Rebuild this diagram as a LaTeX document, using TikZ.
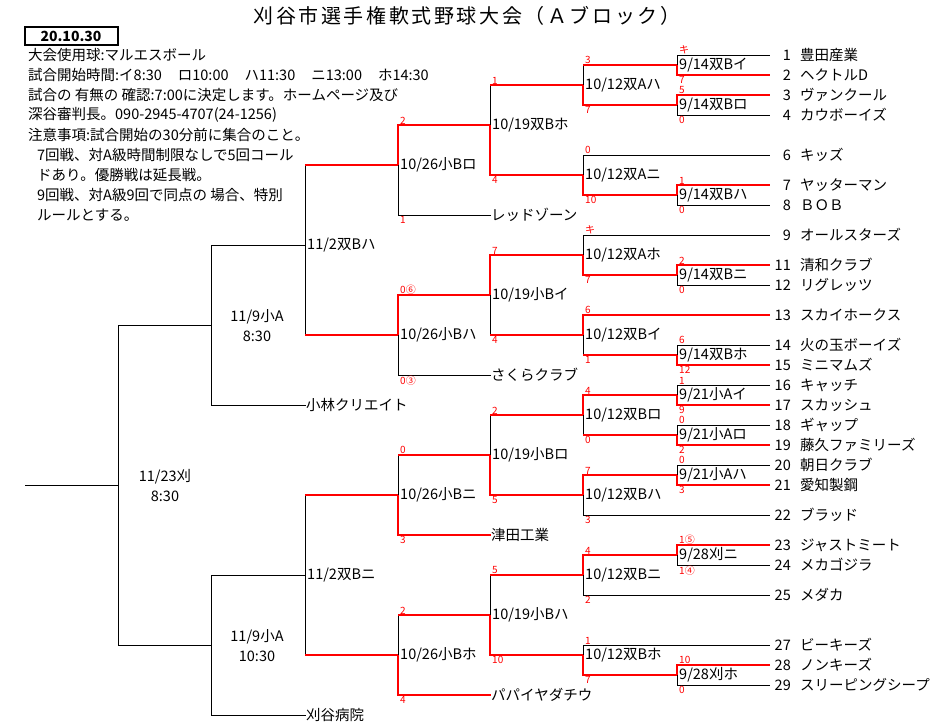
\documentclass[tikz,border=0pt]{standalone}
\usepackage{fontspec}
\setmainfont{Noto Sans CJK JP}
\newfontfamily\titlefont[LetterSpace=13]{Noto Sans CJK JP}
\begin{document}
\begin{tikzpicture}[x=1pt, y=-1pt,
	line/.style={black, line width=1pt},
	win/.style={red, line width=2pt},
	game/.style={anchor=west, inner sep=0pt, xshift=2pt, font=\fontsize{14.5}{16}\selectfont},
	gamec/.style={align=center, inner sep=0pt, font=\fontsize{14.5}{20}\selectfont},
	score/.style={red, inner sep=0pt, xshift=2pt, font=\fontsize{10}{11}\selectfont},
	team/.style={anchor=west, inner sep=0pt, font=\fontsize{14.5}{16}\selectfont},
	note/.style={anchor=west, inner sep=0pt, font=\fontsize{14.5}{16}\selectfont}
]
\useasboundingbox (0,0) rectangle (947,726);

% heading and notes
\node (title) at (467,16) {\titlefont\fontsize{20}{22}\selectfont 刈谷市選手権軟式野球大会（Ａブロック）};
\node (date) at (71,36) [draw, line width=2pt, minimum width=93pt, minimum height=18pt, inner sep=0pt, font=\bfseries\fontsize{14}{16}\selectfont] {20.10.30};
\foreach \y/\x/\t in {55/28/{大会使用球:マルエスボール},
	75/28/{試合開始時間:イ8:30\hspace{16pt}ロ10:00\hspace{16pt}ハ11:30\hspace{16pt}ニ13:00\hspace{16pt}ホ14:30},
	95/28/{試合の 有無の 確認:7:00に決定します。ホームページ及び},
	115/28/{深谷審判長。090-2945-4707(24-1256)},
	135/28/{注意事項:試合開始の30分前に集合のこと。},
	155/37/{7回戦、対A級時間制限なしで5回コール},
	175/37/{ドあり。優勝戦は延長戦。},
	195/37/{9回戦、対A級9回で同点の 場合、特別},
	215/37/{ルールとする。}}
	\node (note\y) at (\x,\y) [note] {\t};

% games: name/x/top/mid/bottom
\foreach \id/\x/\t/\m/\b in {a1/677/55/65/75, a2/677/95/105/115, a3/677/185/195/205,
	a4/677/265/275/285, a5/677/345/355/365, a6/677/385/395/405, a7/677/425/435/445,
	a8/677/465/475/485, a9/677/545/555/565, a10/677/665/675/685,
	b1/583/65/85/105, b2/583/155/175/195, b3/583/235/255/275, b4/583/315/335/355,
	b5/583/395/415/435, b6/583/475/495/515, b7/583/555/575/595, b8/583/645/655/675,
	c1/490/85/125/175, c2/490/255/295/335, c3/490/415/455/495, c4/490/575/615/655,
	d1/398/125/165/215, d2/398/295/335/375, d3/398/455/495/535, d4/398/615/655/695,
	e1/305/165/245/335, e2/305/495/575/655,
	f1/211/245/325/405, f2/211/575/645/715,
	g1/118/325/485/645}
{
	\coordinate (\id-t) at (\x,\t);
	\coordinate (\id-m) at (\x,\m);
	\coordinate (\id-b) at (\x,\b);
	\draw[line] (\id-t) -- (\id-b);
}
\coordinate (champ) at (25,485);

% teams
\foreach \n/\y/\name in {1/55/豊田産業, 2/75/ヘクトルD, 3/95/ヴァンクール, 4/115/カウボーイズ,
	6/155/キッズ, 7/185/ヤッターマン, 8/205/ＢＯＢ, 9/235/オールスターズ, 11/265/清和クラブ,
	12/285/リグレッツ, 13/315/スカイホークス, 14/345/火の玉ボーイズ, 15/365/ミニマムズ,
	16/385/キャッチ, 17/405/スカッシュ, 18/425/ギャップ, 19/445/藤久ファミリーズ,
	20/465/朝日クラブ, 21/485/愛知製鋼, 22/515/ブラッド, 23/545/ジャストミート,
	24/565/メカゴジラ, 25/595/メダカ, 27/645/ビーキーズ, 28/665/ノンキーズ,
	29/685/スリーピングシープ}
{
	\coordinate (tl\n) at (770,\y);
	\node (no\n) at (791,\y) [team, anchor=east] {\n};
	\node (tm\n) at (800,\y) [team] {\name};
}
\node (redzone) at (491,215) [team] {レッドゾーン};
\node (sakura) at (491,375) [team] {さくらクラブ};
\node (tsuda) at (491,535) [team] {津田工業};
\node (papaya) at (491,695) [team] {パパイヤダチウ};
\node (kobayashi) at (306,405) [team] {小林クリエイト};
\node (kariya) at (306,715) [team] {刈谷病院};

% black lines
\foreach \p/\q in {a1-t/tl1, a2-b/tl4, b2-t/tl6, a3-b/tl8, b3-t/tl9, a4-b/tl12,
	a5-t/tl14, a6-t/tl16, a7-t/tl18, a8-t/tl20, b6-b/tl22, a9-b/tl24, b7-b/tl25,
	b8-t/tl27, a10-b/tl29, d1-b/redzone.west, d2-b/sakura.west,
	f1-t/e1-m, f1-b/kobayashi.west, f2-t/e2-m, f2-b/kariya.west,
	g1-t/f1-m, g1-b/f2-m, champ/g1-m}
	\draw[line] (\p) -- (\q);

% red lines: winner side of each game
\foreach \g/\s/\q in {a1/b/tl2, a2/t/tl3, a3/t/tl7, a4/t/tl11, a5/b/tl15, a6/b/tl17,
	a7/b/tl19, a8/b/tl21, a9/t/tl23, a10/t/tl28,
	b1/b/a2-m, b2/b/a3-m, b3/b/a4-m, b4/t/tl13, b5/t/a6-m, b6/t/a8-m, b7/t/a9-m, b8/b/a10-m,
	c1/b/b2-m, c2/t/b3-m, c3/b/b6-m, c4/b/b8-m,
	d1/t/c1-m, d2/t/c2-m, d3/b/tsuda.west, d4/b/papaya.west}
	\draw[win] (\g-m) -- (\g-\s) -- (\q);
\foreach \p/\q in {b1-t/a1-m, b4-b/a5-m, b5-b/a7-m, c1-t/b1-m, c2-b/b4-m, c3-t/b5-m,
	c4-t/b7-m, d3-t/c3-m, d4-t/c4-m, e1-t/d1-m, e1-b/d2-m, e2-t/d3-m, e2-b/d4-m}
	\draw[win] (\p) -- (\q);

% game labels
\node (la1) at (a1-m) [game] {9/14双Bイ};
\node (la2) at (a2-m) [game] {9/14双Bロ};
\node (la3) at (a3-m) [game] {9/14双Bハ};
\node (la4) at (a4-m) [game] {9/14双Bニ};
\node (la5) at (a5-m) [game] {9/14双Bホ};
\node (la6) at (a6-m) [game] {9/21小Aイ};
\node (la7) at (a7-m) [game] {9/21小Aロ};
\node (la8) at (a8-m) [game] {9/21小Aハ};
\node (la9) at (a9-m) [game] {9/28刈ニ};
\node (la10) at (a10-m) [game] {9/28刈ホ};
\node (lb1) at (b1-m) [game] {10/12双Aハ};
\node (lb2) at (b2-m) [game] {10/12双Aニ};
\node (lb3) at (b3-m) [game] {10/12双Aホ};
\node (lb4) at (b4-m) [game] {10/12双Bイ};
\node (lb5) at (b5-m) [game] {10/12双Bロ};
\node (lb6) at (b6-m) [game] {10/12双Bハ};
\node (lb7) at (b7-m) [game] {10/12双Bニ};
\node (lb8) at (b8-m) [game] {10/12双Bホ};
\node (lc1) at (c1-m) [game] {10/19双Bホ};
\node (lc2) at (c2-m) [game] {10/19小Bイ};
\node (lc3) at (c3-m) [game] {10/19小Bロ};
\node (lc4) at (c4-m) [game] {10/19小Bハ};
\node (ld1) at (d1-m) [game] {10/26小Bロ};
\node (ld2) at (d2-m) [game] {10/26小Bハ};
\node (ld3) at (d3-m) [game] {10/26小Bニ};
\node (ld4) at (d4-m) [game] {10/26小Bホ};
\node (le1) at (e1-m) [game] {11/2双Bハ};
\node (le2) at (e2-m) [game] {11/2双Bニ};
\node (lf1) at (257,326) [gamec] {11/9小A\\8:30};
\node (lf2) at (257,646) [gamec] {11/9小A\\10:30};
\node (lg1) at (165,486) [gamec] {11/23刈\\8:30};

% scores: top/bottom
\foreach \g/\u/\v in {a1/キ/7, a2/5/0, a3/1/0, a4/2/0, a5/6/12, a6/1/9, a7/0/2, a8/0/3,
	a9/1⑤/1④, a10/10/0, b1/3/7, b2/0/10, b3/キ/7, b4/6/1, b5/4/0, b6/7/3, b7/4/2, b8/1/7,
	c1/1/4, c2/7/4, c3/2/5, c4/5/10, d1/2/1, d2/0⑥/0③, d3/0/3, d4/2/4}
{
	\node (st\g) at (\g-t) [score, anchor=south west, yshift=0.8pt] {\u};
	\node (sb\g) at (\g-b) [score, anchor=north west, yshift=-1.2pt] {\v};
}

\end{tikzpicture}
\end{document}
